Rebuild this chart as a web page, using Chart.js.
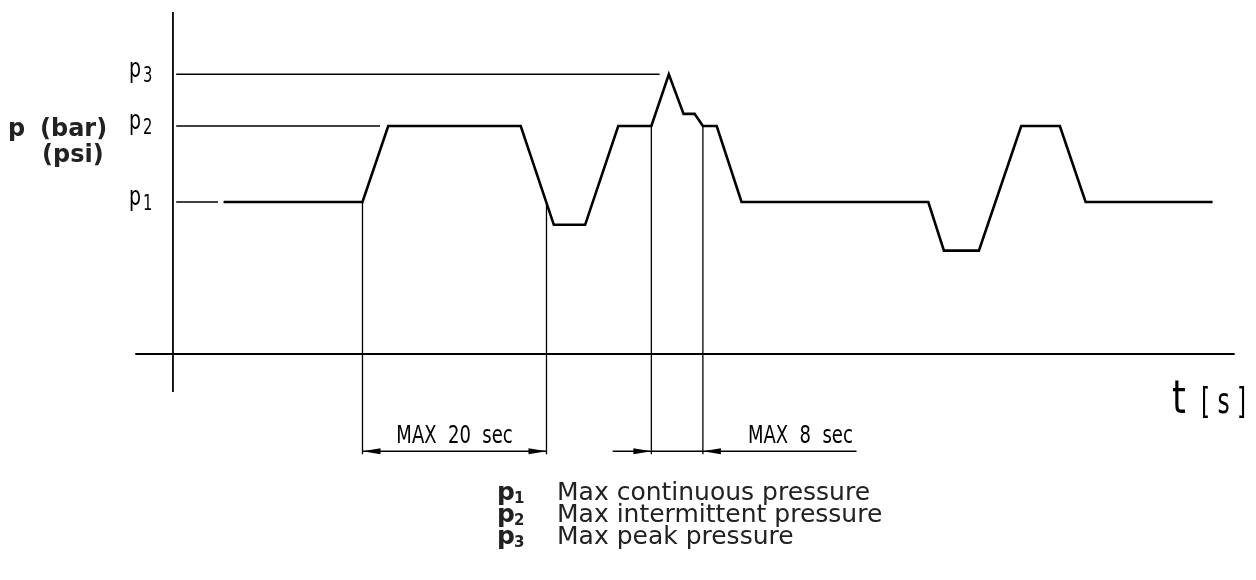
<!DOCTYPE html>
<html>
<head>
<meta charset="utf-8">
<script src="https://cdn.jsdelivr.net/npm/chart.js@4/dist/chart.umd.min.js"></script>
<style>
  html, body { margin: 0; padding: 0; background: #fff; }
  #wrap { position: relative; width: 1256px; height: 580px; }
</style>
</head>
<body>
<div id="wrap"><canvas id="pressureChart"></canvas></div>
<script>
// schematic duty cycle: time in s, pressure in % of p1
const cycleTime = [5.5, 20.6, 23.4, 37.8, 41.4, 44.8, 48.4, 52.0, 53.9, 55.5, 56.7, 57.6, 59.1, 61.8, 82.1, 83.8, 87.6, 92.2, 96.4, 99.2, 113.0];
const cyclePressure = [100, 100, 150, 150, 85, 85, 150, 150, 184, 158, 158, 150, 150, 100, 100, 68, 68, 150, 150, 100, 100];

const levelNames = ['1', '2', '3'];
const levelValues = [100, 150, 184];
const levelLineEnd = [4.9, 22.5, 52.9];
const legendText = ['Max continuous pressure', 'Max intermittent pressure', 'Max peak pressure'];

const timeAxisRange = [-4.1, 115.4];
const pressureAxisRange = [-25, 225];

// extension lines for the dimensions: [time, top pressure]
const markTime = [20.6, 40.6, 52.0, 57.6];
const markTop = [100, 98, 150, 150];
const markBottom = -66;
const dimLevel = -64;
const limit20 = [20.6, 40.6];
const limit8 = [52.0, 57.6];
const limit8Line = [47.8, 74.3];

const ink = '#000';

function seg(x1, y1, x2, y2, width) {
    return {
        data: [{ x: x1, y: y1 }, { x: x2, y: y2 }],
        borderColor: ink,
        borderWidth: width,
        pointRadius: 0,
        fill: false,
    };
}

const datasets = [];
datasets.push({
    data: cycleTime.map((t, i) => ({ x: t, y: cyclePressure[i] })),
    borderColor: ink,
    borderWidth: 2.6,
    pointRadius: 0,
    fill: false,
    borderJoinStyle: 'miter',
});
levelValues.forEach((v, i) => datasets.push(seg(0.35, v, levelLineEnd[i], v, 1.4)));
datasets.push(seg(timeAxisRange[0], 0, timeAxisRange[1], 0, 1.8));
datasets.push(seg(0, pressureAxisRange[0], 0, pressureAxisRange[1], 1.8));
markTime.forEach((t, i) => datasets.push(seg(t, markTop[i], t, markBottom, 1.3)));
datasets.push(seg(limit20[0], dimLevel, limit20[1], dimLevel, 1.3));
datasets.push(seg(limit8Line[0], dimLevel, limit8Line[1], dimLevel, 1.3));

const condensed = "'DejaVu Sans Condensed', 'Liberation Sans Narrow', sans-serif";

function arrowHead(ctx, x, y, dir) {
    // dir = 1 tip points right, -1 tip points left
    ctx.beginPath();
    ctx.moveTo(x, y);
    ctx.lineTo(x - dir * 18, y - 3);
    ctx.lineTo(x - dir * 18, y + 3);
    ctx.closePath();
    ctx.fill();
}

// squeezed text, like the drawing's technical lettering
function narrow(ctx, text, x, y, size, sx, align) {
    ctx.save();
    ctx.font = size + 'px ' + condensed;
    ctx.textAlign = align || 'left';
    ctx.translate(x, y);
    ctx.scale(sx, 1);
    ctx.fillText(text, 0, 0);
    ctx.restore();
}

const annotations = {
    id: 'annotations',
    afterDatasetsDraw(chart) {
        const ctx = chart.ctx;
        const xs = chart.scales.x;
        const ys = chart.scales.y;
        ctx.save();
        ctx.fillStyle = ink;
        ctx.textBaseline = 'alphabetic';

        // level labels p1, p2, p3
        const x0 = xs.getPixelForValue(0);
        levelValues.forEach((v, i) => {
            const y = ys.getPixelForValue(v);
            narrow(ctx, 'p', x0 - 44, y + 3, 27, 0.78);
            narrow(ctx, levelNames[i], x0 - 30, y + 8, 21, 0.78);
        });

        // axis titles
        ctx.fillStyle = '#222';
        ctx.font = 'bold 24px DejaVu Sans, sans-serif';
        ctx.textAlign = 'left';
        ctx.fillText('p', 8, 136);
        ctx.fillText('(bar)', 40, 136);
        ctx.fillText('(psi)', 42, 162);
        ctx.fillStyle = ink;

        narrow(ctx, 't', 1172, 413, 46, 0.85);
        narrow(ctx, '[ s ]', 1201, 413, 36, 0.72);

        // dimensions
        const dy = ys.getPixelForValue(dimLevel);
        const a = xs.getPixelForValue(limit20[0]);
        const b = xs.getPixelForValue(limit20[1]);
        arrowHead(ctx, a, dy, -1);
        arrowHead(ctx, b, dy, 1);
        arrowHead(ctx, xs.getPixelForValue(limit8[0]), dy, 1);
        arrowHead(ctx, xs.getPixelForValue(limit8[1]), dy, -1);

        narrow(ctx, 'MAX  20  sec', (a + b) / 2, 443, 25, 0.8, 'center');
        narrow(ctx, 'MAX  8  sec', 748, 443, 25, 0.8, 'left');

        // legend
        ctx.fillStyle = '#222';
        legendText.forEach((txt, i) => {
            const base = 500 + i * 22;
            ctx.font = 'bold 25px DejaVu Sans, sans-serif';
            ctx.fillText('p', 497, base);
            ctx.font = 'bold 15px DejaVu Sans, sans-serif';
            ctx.fillText(levelNames[i], 514, base + 3);
            ctx.font = '25px DejaVu Sans, sans-serif';
            ctx.fillText(txt, 557, base);
        });
        ctx.restore();
    }
};

new Chart(document.getElementById('pressureChart'), {
    type: 'line',
    data: { datasets: datasets },
    options: {
        responsive: true,
        maintainAspectRatio: false,
        animation: false,
        layout: { padding: 0 },
        plugins: {
            legend: { display: false },
            tooltip: { enabled: false },
        },
        scales: {
            x: { type: 'linear', min: -18.8, max: 117.72, display: false },
            y: { type: 'linear', min: -148.7, max: 232.9, display: false },
        },
    },
    plugins: [annotations],
});
</script>
</body>
</html>
